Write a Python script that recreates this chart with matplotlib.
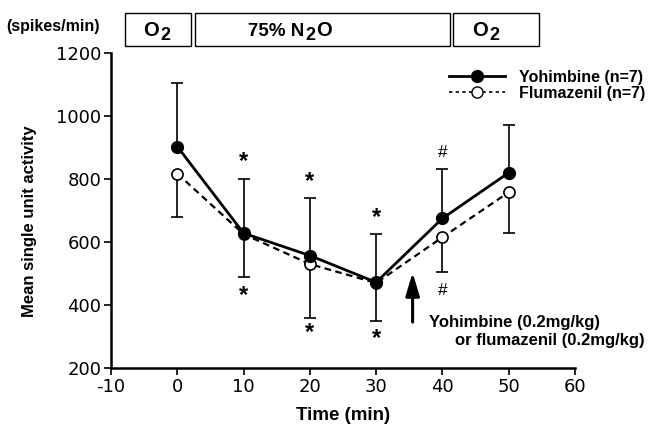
import matplotlib.pyplot as plt
from matplotlib.patches import Rectangle
from matplotlib.lines import Line2D

plt.rcParams["font.family"] = ["Liberation Sans", "DejaVu Sans"]

time_min = [0, 10, 20, 30, 40, 50]
yohimbine = [903, 628, 557, 472, 675, 820]
yohimbine_up = [202, 172, 183, 153, 158, 150]
flumazenil = [817, 625, 530, 470, 615, 758]
flumazenil_down = [137, 135, 170, 120, 110, 128]

star_x = [10, 10, 20, 20, 30, 30]
star_y = [855, 430, 793, 313, 679, 293]
hash_x = [40, 40]
hash_y = [884, 445]

x_ticks = [-10, 0, 10, 20, 30, 40, 50, 60]
y_ticks = [200, 400, 600, 800, 1000, 1200]

W, H = 650, 432


def px(x, y):
    # pixel position (from top-left) -> figure fraction
    return x / W, 1 - y / H


fig = plt.figure(figsize=(6.5, 4.32), dpi=100)
ax = fig.add_axes([111 / W, 1 - 368 / H, (575 - 111) / W, (368 - 53) / H])

ax.errorbar(time_min, yohimbine, yerr=[[0] * 6, yohimbine_up], fmt="none",
            ecolor="black", elinewidth=1.2, capsize=4, capthick=1.2, zorder=2)
ax.errorbar(time_min, flumazenil, yerr=[flumazenil_down, [0] * 6], fmt="none",
            ecolor="black", elinewidth=1.2, capsize=4, capthick=1.2, zorder=2)
ax.plot(time_min, flumazenil, ls=(0, (3, 2)), color="black", lw=1.6,
        marker="o", ms=8, mfc="white", mec="black", mew=1.2, zorder=3)
ax.plot(time_min, yohimbine, ls="-", color="black", lw=2.0,
        marker="o", ms=8.5, mfc="black", mec="black", zorder=4)

for x, y in zip(star_x, star_y):
    ax.text(x, y, "*", ha="center", va="center", fontsize=17, fontweight="bold")
for x, y in zip(hash_x, hash_y):
    ax.text(x, y, "#", ha="center", va="center", fontsize=12.5)

ax.annotate("", xy=(35.5, 512), xytext=(35.5, 337),
            arrowprops=dict(arrowstyle="-|>,head_width=0.42,head_length=1.4",
                            color="black", lw=2.2))
ax.text(38, 343, "Yohimbine (0.2mg/kg)", ha="left", va="center",
        fontsize=12, fontweight="bold")
ax.text(70.5, 287, "or flumazenil (0.2mg/kg)", ha="right", va="center",
        fontsize=12, fontweight="bold")

handles = [
    Line2D([], [], color="black", lw=2.0, marker="o", ms=8.5, mfc="black"),
    Line2D([], [], color="black", lw=1.2, ls=(0, (2, 2)), marker="o", ms=8,
           mfc="white", mec="black", mew=1.0),
]
ax.legend(handles, ["Yohimbine (n=7)", "Flumazenil (n=7)"],
          loc="upper left", bbox_to_anchor=px(441, 62),
          bbox_transform=fig.transFigure, frameon=False, handlelength=3.5,
          handletextpad=0.9, labelspacing=0.05, borderpad=0,
          prop=dict(size=11.5, weight="bold"))

ax.set_xlim(-10, 60)
ax.set_ylim(200, 1200)
ax.set_xticks(x_ticks)
ax.set_yticks(y_ticks)
ax.set_xticklabels([str(t) for t in x_ticks])
ax.tick_params(labelsize=13, width=1.2, length=5, direction="out", pad=2)
for lab in ax.get_xticklabels() + ax.get_yticklabels():
    lab.set_fontfamily("DejaVu Sans")
for side in ["top", "right"]:
    ax.spines[side].set_visible(False)
for side in ["left", "bottom"]:
    ax.spines[side].set_linewidth(1.8)

ax.set_xlabel("Time (min)", fontsize=13.5, fontweight="bold", labelpad=8)
ax.set_ylabel("Mean single unit activity", fontsize=12, fontweight="bold")
ax.yaxis.set_label_coords(-0.159, 0.467)

# phase boxes along the top
box_edges = [(125, 191), (195, 450), (453, 539)]
for x0, x1 in box_edges:
    fig.patches.append(Rectangle(px(x0, 46), (x1 - x0) / W, 33 / H,
                                 transform=fig.transFigure, fill=False,
                                 edgecolor="black", lw=1.0))

box_parts = [
    ("O", 143, 31, 14.5), ("2", 160, 35, 13),
    ("75% N", 248, 31, 13.5), ("2", 305, 35, 13), ("O", 316, 31, 14.5),
    ("O", 472, 31, 14.5), ("2", 489, 35, 13),
]
for s, x, y, fs in box_parts:
    fig.text(*px(x, y), s, ha="left", va="center", fontsize=fs, fontweight="bold")

fig.text(*px(6, 27), "(spikes/min)", ha="left", va="center",
         fontsize=11.5, fontweight="bold")

fig.savefig("out.png", dpi=100)
